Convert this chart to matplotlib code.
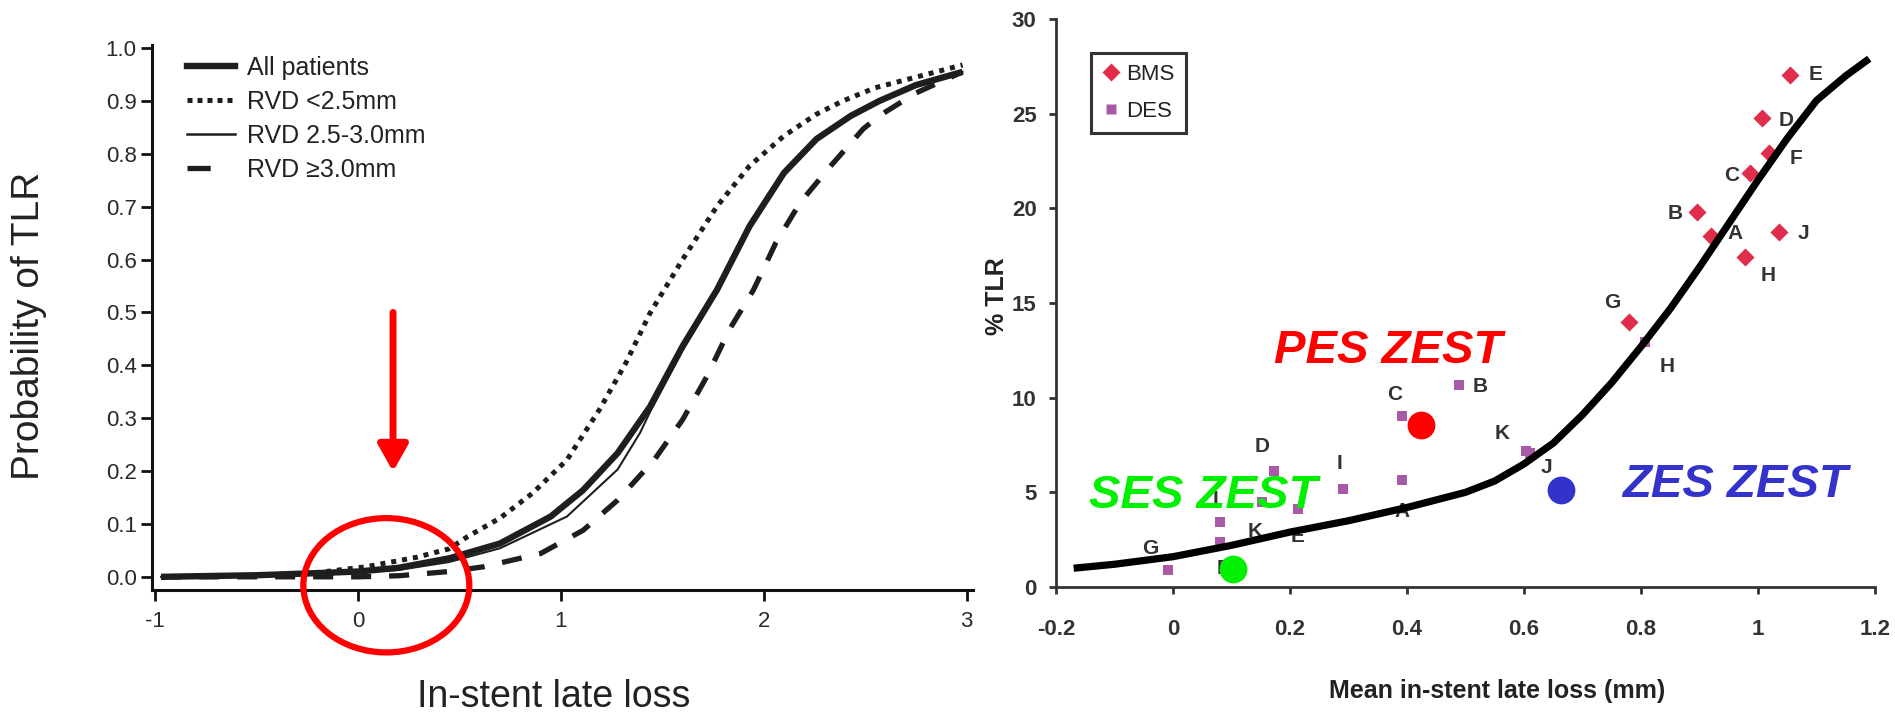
import matplotlib
matplotlib.use('Agg')
import matplotlib.pyplot as plt
from matplotlib.lines import Line2D
from matplotlib.patches import Ellipse

plt.rcParams['font.family'] = ['Liberation Sans', 'DejaVu Sans']
plt.rcParams['axes.unicode_minus'] = False

# ---- left panel: probability of TLR vs in-stent late loss ----
all_x = [-0.97, -0.5, -0.2, 0.0, 0.2, 0.45, 0.7, 0.95, 1.11, 1.28, 1.44, 1.6, 1.77, 1.93, 2.1, 2.26, 2.43, 2.57, 2.75, 2.98]
all_y = [0.0, 0.003, 0.007, 0.01, 0.017, 0.035, 0.063, 0.114, 0.164, 0.234, 0.322, 0.436, 0.543, 0.663, 0.764, 0.828, 0.872, 0.9, 0.93, 0.955]

small_x = [-0.97, -0.5, -0.2, 0.04, 0.29, 0.45, 0.54, 0.7, 0.86, 1.03, 1.19, 1.32, 1.44, 1.6, 1.77, 1.93, 2.1, 2.26, 2.39, 2.55, 2.75, 2.98]
small_y = [0.0, 0.003, 0.008, 0.019, 0.037, 0.053, 0.076, 0.111, 0.158, 0.221, 0.316, 0.404, 0.499, 0.6, 0.701, 0.777, 0.834, 0.875, 0.9, 0.925, 0.945, 0.968]

mid_x = [-0.97, -0.2, 0.2, 0.45, 0.7, 1.03, 1.28, 1.39, 1.44, 1.6, 1.77, 1.93, 2.1, 2.26, 2.43, 2.57, 2.75, 2.98]
mid_y = [0.0, 0.005, 0.013, 0.028, 0.054, 0.114, 0.203, 0.272, 0.312, 0.428, 0.537, 0.658, 0.76, 0.826, 0.87, 0.898, 0.928, 0.955]

large_x = [-0.97, -0.5, 0.0, 0.2, 0.45, 0.62, 0.9, 1.11, 1.28, 1.46, 1.6, 1.72, 1.83, 1.95, 2.06, 2.18, 2.33, 2.49, 2.57, 2.75, 2.98]
large_y = [0.0, 0.0, 0.0, 0.002, 0.01, 0.019, 0.044, 0.088, 0.145, 0.221, 0.297, 0.379, 0.467, 0.543, 0.632, 0.708, 0.777, 0.847, 0.872, 0.915, 0.955]

left_names = ['All patients', 'RVD <2.5mm', 'RVD 2.5-3.0mm', 'RVD \u22653.0mm']
left_yticks = [0.0, 0.1, 0.2, 0.3, 0.4, 0.5, 0.6, 0.7, 0.8, 0.9, 1.0]
left_xticks = [-1, 0, 1, 2, 3]

# ---- right panel: %TLR vs mean in-stent late loss ----
bms_labels = ['A', 'B', 'C', 'D', 'E', 'F', 'G', 'H', 'J']
bms_x = [0.920, 0.895, 0.986, 1.007, 1.055, 1.018, 0.780, 0.978, 1.035]
bms_y = [18.56, 19.83, 21.85, 24.76, 27.05, 22.94, 14.01, 17.45, 18.77]
bms_off = [(24, 2), (-21, -2), (-18, -2), (24, -2), (25, 0), (27, -6), (-17, 19), (23, -19), (25, -2)]

des_labels = ['G', 'F', 'I', 'K', 'D', 'E', 'I', 'A', 'C', 'B', 'K', 'J', 'H']
des_x = [-0.009, 0.081, 0.081, 0.152, 0.172, 0.213, 0.291, 0.391, 0.391, 0.489, 0.603, 0.61, 0.807]
des_y = [0.885, 2.39, 3.45, 4.51, 6.1, 4.1, 5.16, 5.67, 9.03, 10.67, 7.2, 7.05, 12.92]
des_off = [(-18, 22), (3, -27), (-5, 22), (-7, -30), (-12, 25), (0, -27), (-4, 26), (0, -32),
           (-7, 21), (21, -2), (-24, 17), (16, -14), (22, -24)]

fit_x = [-0.17, -0.1, 0.0, 0.1, 0.2, 0.3, 0.4, 0.45, 0.5, 0.55, 0.6, 0.65, 0.7, 0.75, 0.8, 0.85,
         0.9, 0.95, 1.0, 1.05, 1.1, 1.15, 1.19]
fit_y = [0.99, 1.2, 1.6, 2.2, 2.9, 3.5, 4.2, 4.6, 5.0, 5.6, 6.5, 7.6, 9.1, 10.8, 12.7, 14.7,
         16.9, 19.2, 21.5, 23.7, 25.7, 27.0, 27.9]

zest_names = ['SES ZEST', 'PES ZEST', 'ZES ZEST']
zest_x = [0.102, 0.424, 0.663]
zest_y = [0.97, 8.58, 5.13]
zest_colors = ['#00f000', '#ff0000', '#3333cc']
zest_text_pos = [(0.051, 4.82), (0.367, 12.44), (0.961, 5.37)]

right_xticks = [-0.2, 0, 0.2, 0.4, 0.6, 0.8, 1.0, 1.2]
right_xlabels = ['-0.2', '0', '0.2', '0.4', '0.6', '0.8', '1', '1.2']
right_yticks = [0, 5, 10, 15, 20, 25, 30]

fig = plt.figure(figsize=(18.95, 7.12), dpi=100)

# left chart
ax1 = fig.add_axes([0.0802, 0.1713, 0.4331, 0.7649])
ink = '#1e1e1e'
ax1.plot(large_x, large_y, color=ink, lw=3.8, dashes=(3.8, 3.4))
ax1.plot(small_x, small_y, color=ink, lw=3.6, dashes=(1.0, 1.2))
ax1.plot(all_x, all_y, color=ink, lw=4.6, solid_capstyle='butt', solid_joinstyle='round')
ax1.plot(mid_x, mid_y, color=ink, lw=1.5)
ax1.set_xlim(-1.015, 3.03)
ax1.set_ylim(-0.025, 1.005)
ax1.set_xticks(left_xticks)
ax1.set_yticks(left_yticks)
ax1.set_yticklabels([f'{v:.1f}' for v in left_yticks])
for s in ['top', 'right']:
    ax1.spines[s].set_visible(False)
for s in ['left', 'bottom']:
    ax1.spines[s].set_linewidth(2.2)
    ax1.spines[s].set_color('#111111')
ax1.tick_params(axis='both', direction='out', length=8, width=2, color='#111111',
                labelsize=16, labelcolor='#2a2a2a')
ax1.tick_params(axis='x', pad=7)
ax1.tick_params(axis='y', pad=3)

handles = [
    Line2D([], [], color=ink, lw=4.6),
    Line2D([], [], color=ink, lw=3.6, dashes=(1.0, 1.0)),
    Line2D([], [], color=ink, lw=1.8),
    Line2D([], [], color=ink, lw=3.8, dashes=(4.4, 8)),
]
ax1.legend(handles, left_names, loc='upper left', bbox_to_anchor=(186.7 / 1895, 1 - 56 / 712),
           bbox_transform=fig.transFigure, frameon=False, fontsize=18, handlelength=1.92,
           handletextpad=0.48, labelspacing=0.4, borderpad=0, borderaxespad=0, labelcolor='#222222')

# red arrow and ellipse marking the low late loss region
ax1.annotate('', xy=(0.173, 0.199), xytext=(0.173, 0.5),
             arrowprops=dict(arrowstyle='-|>,head_length=0.8,head_width=0.45', color='red',
                             lw=5, mutation_scale=20, shrinkA=0, shrinkB=0),
             annotation_clip=False)
ax1.add_patch(Ellipse((0.14, -0.016), 0.818, 0.254, fill=False, ec='red', lw=4.5,
                      clip_on=False, zorder=6))

fig.text(29 / 1895, 1 - 326 / 712, 'Probability of TLR', rotation=90, ha='center', va='center',
         fontsize=28, color='#222222')
fig.text(553.5 / 1895, 1 - 707 / 712, 'In-stent late loss', ha='center', va='baseline',
         fontsize=27, color='#222222')

# right chart
ax2 = fig.add_axes([0.5573, 0.1756, 0.4322, 0.7978])
ax2.scatter(bms_x, bms_y, marker='D', s=85, color='#e02d4b', zorder=2, linewidths=0)
ax2.scatter(des_x, des_y, marker='s', s=52, color='#a859a8', zorder=2, linewidths=0)
for lab, x, y, off in zip(bms_labels, bms_x, bms_y, bms_off):
    ax2.annotate(lab, (x, y), xytext=off, textcoords='offset pixels', ha='center', va='center',
                 fontsize=15, fontweight='bold', color='#333333', zorder=3)
for lab, x, y, off in zip(des_labels, des_x, des_y, des_off):
    ax2.annotate(lab, (x, y), xytext=off, textcoords='offset pixels', ha='center', va='center',
                 fontsize=15, fontweight='bold', color='#333333', zorder=3)
ax2.plot(fit_x, fit_y, color='black', lw=5.2, zorder=4, solid_capstyle='butt',
         solid_joinstyle='round')
for name, x, y, c, pos in zip(zest_names, zest_x, zest_y, zest_colors, zest_text_pos):
    ax2.plot(x, y, 'o', ms=20, color=c, mec='none', zorder=5, clip_on=False)
    ax2.text(pos[0], pos[1], name, ha='center', va='center', fontsize=34, fontweight='bold',
             fontstyle='italic', color=c, zorder=6)

ax2.set_xlim(-0.2, 1.2)
ax2.set_ylim(0, 30)
ax2.set_xticks(right_xticks)
ax2.set_xticklabels(right_xlabels)
ax2.set_yticks(right_yticks)
for s in ['top', 'right']:
    ax2.spines[s].set_visible(False)
for s in ['left', 'bottom']:
    ax2.spines[s].set_linewidth(2)
    ax2.spines[s].set_color('#333333')
ax2.tick_params(axis='both', direction='out', length=5, width=2, color='#333333',
                labelsize=16, labelcolor='#333333')
for t in ax2.get_xticklabels() + ax2.get_yticklabels():
    t.set_fontweight('bold')
ax2.tick_params(axis='x', pad=18)
ax2.tick_params(axis='y', pad=9)

leg_handles = [
    Line2D([], [], ls='none', marker='D', ms=9, color='#e02d4b', mec='none'),
    Line2D([], [], ls='none', marker='s', ms=7, color='#a859a8', mec='none'),
]
leg = ax2.legend(leg_handles, ['BMS', 'DES'], loc='upper left', bbox_to_anchor=(0.0427, 0.94),
                 fontsize=16, handlelength=0.8, handletextpad=0.3, borderpad=0.5,
                 labelspacing=0.7, borderaxespad=0, fancybox=False, labelcolor='#222222')
leg.get_frame().set_edgecolor('black')
leg.get_frame().set_linewidth(2.2)

fig.text(997 / 1895, 1 - 296 / 712, '% TLR', rotation=90, ha='center', va='center',
         fontsize=18, fontweight='bold', color='#222222')
fig.text(1497.5 / 1895, 1 - 691 / 712, 'Mean in-stent late loss (mm)', ha='center', va='center',
         fontsize=18, fontweight='bold', color='#222222')

fig.savefig('out.png', dpi=100)
